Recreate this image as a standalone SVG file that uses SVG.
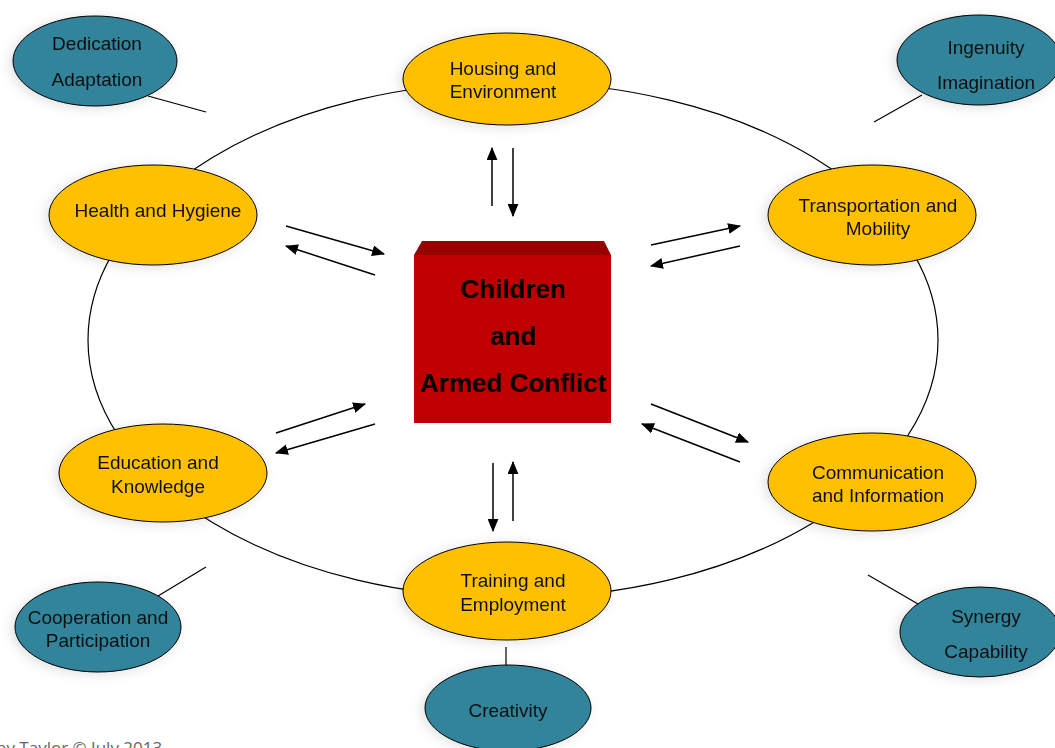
<svg xmlns="http://www.w3.org/2000/svg" width="1055" height="748" viewBox="0 0 1055 748">
  <style>
    .lbl { font-family: "Liberation Sans", Arial, sans-serif; font-size: 19px; fill: #111; text-anchor: middle; }
    .core { font-family: "Liberation Sans", Arial, sans-serif; font-size: 26px; font-weight: bold; fill: #000; text-anchor: middle; }
    .theme { fill: #FFC000; stroke: #000; stroke-width: 1; }
    .value { fill: #31849B; stroke: #000; stroke-width: 1; }
    .ring { fill: none; stroke: #000; stroke-width: 1.2; }
    .spoke { stroke: #000; stroke-width: 1.2; fill: none; }
    .flow { stroke: #000; stroke-width: 1.5; fill: none; marker-end: url(#head); }
    .credit { font-family: "Open Sans", "Liberation Sans", sans-serif; font-size: 17px; fill: #666; }
  </style>
  <defs>
    <marker id="head" viewBox="0 0 12 10" refX="11" refY="5" markerWidth="13" markerHeight="11" markerUnits="userSpaceOnUse" orient="auto">
      <path d="M0,0 L12,5 L0,10 z" fill="#000"/>
    </marker>
    <filter id="haze" x="-20%" y="-30%" width="140%" height="160%">
      <feDropShadow dx="-3" dy="2" stdDeviation="6" flood-color="#000" flood-opacity="0.12"/>
    </filter>
  </defs>
  <rect width="1055" height="748" fill="#fff"/>

  <!-- ring, spokes and two-way flows -->
  <g id="connectors">
    <ellipse class="ring" cx="513" cy="340" rx="425" ry="258"/>
    <line class="spoke" x1="148" y1="96" x2="206" y2="112"/>
    <line class="spoke" x1="922" y1="95" x2="874" y2="122"/>
    <line class="spoke" x1="158" y1="596" x2="206" y2="567"/>
    <line class="spoke" x1="868" y1="575" x2="918" y2="604"/>
    <line class="spoke" x1="506" y1="647" x2="506" y2="668"/>

    <line class="flow" x1="492" y1="206" x2="492" y2="148"/>
    <line class="flow" x1="513" y1="148" x2="513" y2="216"/>
    <line class="flow" x1="493" y1="463" x2="493" y2="531"/>
    <line class="flow" x1="513" y1="521" x2="513" y2="462"/>

    <line class="flow" x1="286" y1="226" x2="384" y2="254"/>
    <line class="flow" x1="375" y1="275" x2="286" y2="246"/>
    <line class="flow" x1="651" y1="245" x2="740" y2="226"/>
    <line class="flow" x1="740" y1="246" x2="651" y2="266"/>
    <line class="flow" x1="276" y1="433" x2="365" y2="404"/>
    <line class="flow" x1="375" y1="424" x2="276" y2="453"/>
    <line class="flow" x1="651" y1="404" x2="748" y2="442"/>
    <line class="flow" x1="740" y1="462" x2="642" y2="424"/>
  </g>

  <g id="core">
    <path d="M422,241 L604,241 L611,255 L414,255 z" fill="#990000"/>
    <rect x="414" y="255" width="197" height="168" fill="#C00000"/>
    <text class="core" x="513" y="298">Children</text>
    <text class="core" x="513" y="345">and</text>
    <text class="core" x="513" y="392">Armed Conflict</text>
  </g>

  <g id="housing" filter="url(#haze)">
    <ellipse class="theme" cx="507" cy="79" rx="104" ry="46"/>
    <text class="lbl" x="503" y="75">Housing and</text>
    <text class="lbl" x="503" y="98">Environment</text>
  </g>
  <g id="health" filter="url(#haze)">
    <ellipse class="theme" cx="153" cy="215" rx="104" ry="50"/>
    <text class="lbl" x="158" y="217">Health and Hygiene</text>
  </g>
  <g id="transportation" filter="url(#haze)">
    <ellipse class="theme" cx="872" cy="215" rx="104" ry="50"/>
    <text class="lbl" x="878" y="212">Transportation and</text>
    <text class="lbl" x="878" y="235">Mobility</text>
  </g>
  <g id="education" filter="url(#haze)">
    <ellipse class="theme" cx="163" cy="473" rx="104" ry="49"/>
    <text class="lbl" x="158" y="469">Education and</text>
    <text class="lbl" x="158" y="493">Knowledge</text>
  </g>
  <g id="communication" filter="url(#haze)">
    <ellipse class="theme" cx="872" cy="482" rx="104" ry="49"/>
    <text class="lbl" x="878" y="479">Communication</text>
    <text class="lbl" x="878" y="502">and Information</text>
  </g>
  <g id="training" filter="url(#haze)">
    <ellipse class="theme" cx="507" cy="591" rx="104" ry="49"/>
    <text class="lbl" x="513" y="587">Training and</text>
    <text class="lbl" x="513" y="611">Employment</text>
  </g>

  <g id="dedication" filter="url(#haze)">
    <ellipse class="value" cx="95" cy="61" rx="82" ry="45"/>
    <text class="lbl" x="97" y="50">Dedication</text>
    <text class="lbl" x="97" y="86">Adaptation</text>
  </g>
  <g id="ingenuity" filter="url(#haze)">
    <ellipse class="value" cx="979" cy="60" rx="82" ry="45"/>
    <text class="lbl" x="986" y="54">Ingenuity</text>
    <text class="lbl" x="986" y="89">Imagination</text>
  </g>
  <g id="cooperation" filter="url(#haze)">
    <ellipse class="value" cx="98" cy="627" rx="83" ry="45"/>
    <text class="lbl" x="98" y="624">Cooperation and</text>
    <text class="lbl" x="98" y="647">Participation</text>
  </g>
  <g id="synergy" filter="url(#haze)">
    <ellipse class="value" cx="980" cy="632" rx="80" ry="45"/>
    <text class="lbl" x="986" y="623">Synergy</text>
    <text class="lbl" x="986" y="658">Capability</text>
  </g>
  <g id="creativity" filter="url(#haze)">
    <ellipse class="value" cx="508" cy="708" rx="83" ry="43"/>
    <text class="lbl" x="508" y="717">Creativity</text>
  </g>

  <text class="credit" x="-4" y="754">by Taylor © July 2013</text>
</svg>
